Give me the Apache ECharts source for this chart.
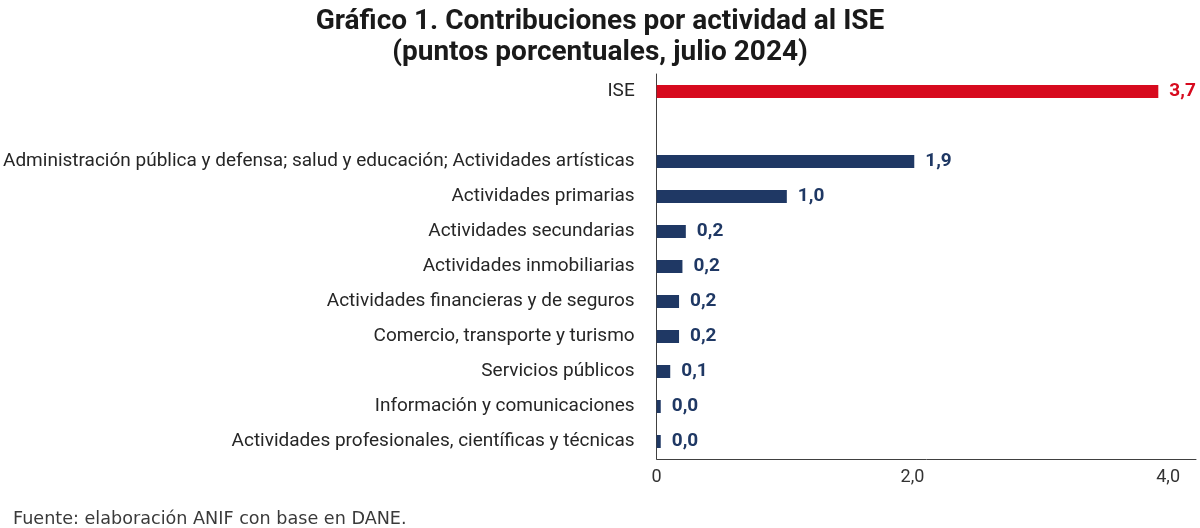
<!DOCTYPE html>
<html>
<head>
<meta charset="utf-8">
<script src="https://cdn.jsdelivr.net/npm/echarts@6/dist/echarts.min.js"></script>
<style>html,body{margin:0;padding:0;background:#fff}#c{width:1200px;height:528px}</style>
</head>
<body>
<div id="c"></div>
<script>
const categories = ['ISE', '', 'Administración pública y defensa; salud y educación; Actividades artísticas', 'Actividades primarias', 'Actividades secundarias', 'Actividades inmobiliarias', 'Actividades financieras y de seguros', 'Comercio, transporte y turismo', 'Servicios públicos', 'Información y comunicaciones', 'Actividades profesionales, científicas y técnicas'];
const values = [3.70, null, 1.90, 0.96, 0.215, 0.19, 0.165, 0.165, 0.10, 0.03, 0.03];
const xTicks = [0, 2, 4];
const titleText = 'Gráfico 1. Contribuciones por actividad al ISE\n(puntos porcentuales, julio 2024)';
const sourceText = 'Fuente: elaboración ANIF con base en DANE.';

const RED = '#D70A1E', NAVY = '#1F3864';
const fmt = v => v.toFixed(1).replace('.', ',');

const chart = echarts.init(document.getElementById('c'));
chart.setOption({
  animation: false,
  title: [{
    text: titleText, left: 'center', top: 1,
    textStyle: { fontFamily: 'Roboto, sans-serif', fontWeight: 'bold', fontSize: 28, lineHeight: 31, color: '#1a1a1a' }
  }, {
    text: sourceText, left: 8, top: 505,
    textStyle: { fontFamily: 'DejaVu Sans, sans-serif', fontWeight: 'normal', fontSize: 17.6, color: '#3a3a3a' }
  }],
  grid: { left: 655, top: 74, right: 4, bottom: 69, containLabel: false },
  xAxis: [{
    type: 'value', min: 0, max: 4.218, interval: 2,
    splitLine: { show: false }, axisTick: { show: false },
    axisLine: { show: true, lineStyle: { color: '#404040', width: 1 } },
    axisLabel: {
      showMaxLabel: false, margin: 9, fontSize: 18, color: '#333', fontFamily: 'Roboto, sans-serif',
      formatter: v => xTicks.indexOf(v) >= 0 ? (v === 0 ? '0' : fmt(v)) : ''
    }
  }, {
    type: 'value', min: 0, max: 3.978, show: false, splitLine: { show: false }
  }],
  yAxis: {
    type: 'category', data: categories, inverse: true,
    axisTick: { show: false },
    axisLine: { show: true, lineStyle: { color: '#404040', width: 1 } },
    axisLabel: { fontSize: 19, color: '#262626', margin: 22, fontFamily: 'Roboto, sans-serif' }
  },
  series: [{
    type: 'bar', xAxisIndex: 1, data: values, barWidth: 13,
    itemStyle: { color: p => p.name === 'ISE' ? RED : NAVY },
    label: {
      show: true, position: 'right', distance: 11,
      fontFamily: 'Roboto, sans-serif', fontWeight: 'bold', fontSize: 19,
      formatter: p => p.value == null ? '' : fmt(p.value),
      color: 'inherit'
    }
  }]
});
</script>
</body>
</html>
